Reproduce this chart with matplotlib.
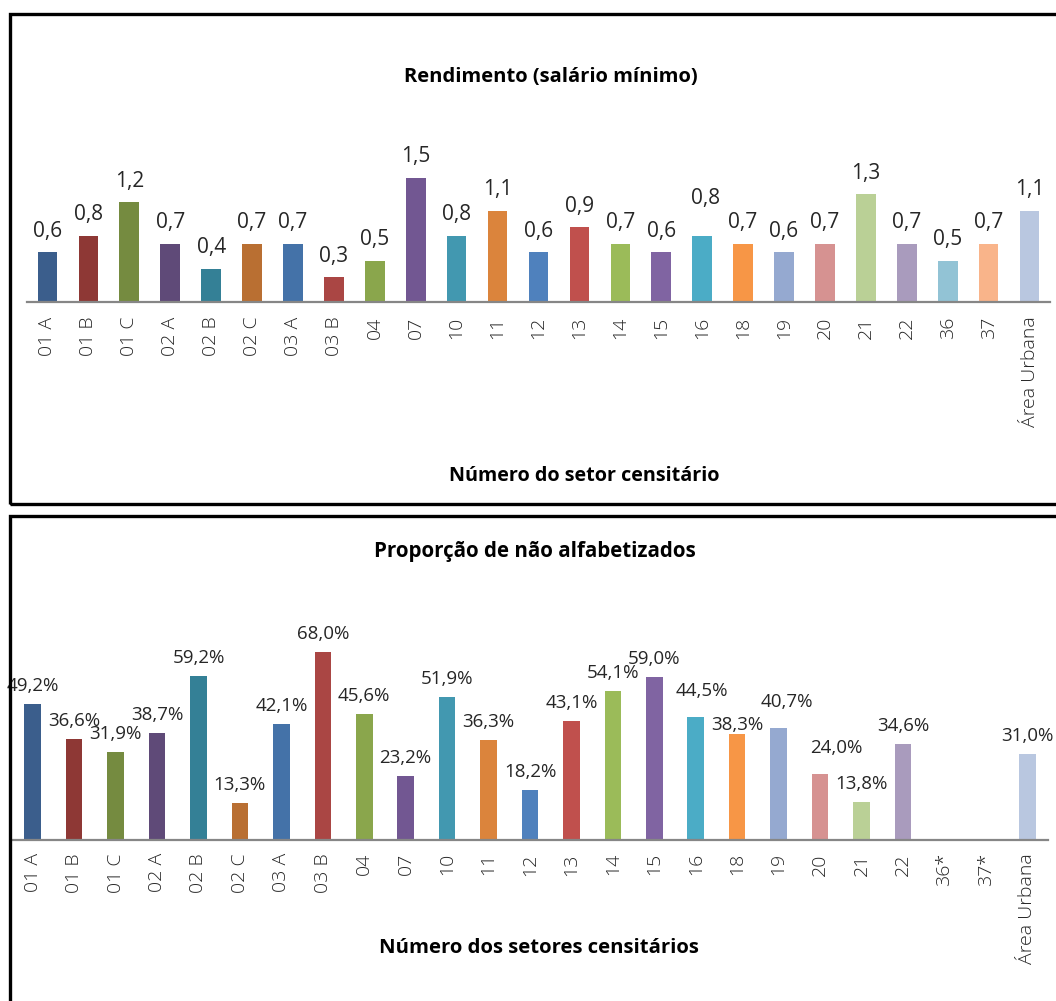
import numpy as np
import matplotlib
matplotlib.use("Agg")
import matplotlib.pyplot as plt
from matplotlib.patches import Rectangle

# Setores censitários (eixo x dos dois gráficos)
setores_renda = ["01 A", "01 B", "01 C", "02 A", "02 B", "02 C", "03 A", "03 B",
                 "04", "07", "10", "11", "12", "13", "14", "15", "16", "18", "19",
                 "20", "21", "22", "36", "37", "Área Urbana"]
setores_alfab = ["01 A", "01 B", "01 C", "02 A", "02 B", "02 C", "03 A", "03 B",
                 "04", "07", "10", "11", "12", "13", "14", "15", "16", "18", "19",
                 "20", "21", "22", "36*", "37*", "Área Urbana"]

# Rendimento médio em salários mínimos
rendimento = [0.6, 0.8, 1.2, 0.7, 0.4, 0.7, 0.7, 0.3, 0.5, 1.5, 0.8, 1.1, 0.6,
              0.9, 0.7, 0.6, 0.8, 0.7, 0.6, 0.7, 1.3, 0.7, 0.5, 0.7, 1.1]

# Proporção de não alfabetizados (%); 36 e 37 sem dado
nao_alfab = [49.2, 36.6, 31.9, 38.7, 59.2, 13.3, 42.1, 68.0, 45.6, 23.2, 51.9,
             36.3, 18.2, 43.1, 54.1, 59.0, 44.5, 38.3, 40.7, 24.0, 13.8, 34.6,
             np.nan, np.nan, 31.0]

cores = ["#3B5E8C", "#8E3835", "#758B40", "#5F4A78", "#348096", "#B96F32",
         "#4472A8", "#AA4644", "#8AA64C", "#725792", "#4298B0", "#DB843C",
         "#4F81BD", "#C0504D", "#9BBB59", "#8064A2", "#4BACC6", "#F79646",
         "#95A9D0", "#D69291", "#BAD096", "#A99BBD", "#92C3D5", "#F9B48A",
         "#B9C7E0"]

# Deslocamentos manuais de rótulos (dx, dy em pixels) para evitar sobreposição
ajuste_renda = {16: (3, 16)}
ajuste_alfab = {16: (6, 8), 17: (0, -9), 18: (8, 8), 19: (16, 8)}

W, H = 1056, 1001
PX = 0.72  # pontos por pixel a 100 dpi
fig = plt.figure(figsize=(W / 100, H / 100), dpi=100)
fig.patch.set_facecolor("white")

FONT = ["Open Sans", "DejaVu Sans"]
AXIS_GRAY = "#868686"


def px_axes(x0, x1, y_top, y_base):
    return fig.add_axes([x0 / W, 1 - y_base / H, (x1 - x0) / W, (y_base - y_top) / H])


def style_axes(ax, labels, pad):
    for s in ("top", "left", "right"):
        ax.spines[s].set_visible(False)
    ax.spines["bottom"].set_color(AXIS_GRAY)
    ax.spines["bottom"].set_linewidth(1.6)
    ax.set_yticks([])
    ax.set_xticks(np.arange(len(labels)))
    ax.set_xticklabels(labels, rotation=90, ha="center", va="top",
                       family=FONT, fontsize=14, fontweight="light", color="#262626")
    ax.tick_params(axis="x", length=0, pad=pad)
    ax.set_xlim(-0.5, len(labels) - 0.5)
    ax.set_facecolor("none")


def rotular(ax, xs, vals, fmt, base_px, ajustes, size):
    for i, (xi, v) in enumerate(zip(xs, vals)):
        if np.isnan(v):
            continue
        dx, dy = ajustes.get(i, (0, 0))
        ax.annotate(fmt(v), (xi, v), xytext=(dx * PX, (base_px + dy) * PX),
                    textcoords="offset points", ha="center", va="baseline",
                    family=FONT, fontsize=size, color="#262626")


# Molduras dos painéis
for (x, y, w, h) in [(9.5, 14, 1100, 490), (9.5, 516, 1100, 520)]:
    fig.patches.append(Rectangle((x / W, 1 - (y + h) / H), w / W, h / H,
                                 transform=fig.transFigure, fill=False,
                                 edgecolor="black", linewidth=2.4, clip_on=False))

# ---- Painel superior: rendimento ----
ax1 = px_axes(27, 1050, 136, 302)
x1 = np.arange(len(setores_renda))
ax1.bar(x1, rendimento, width=0.48, color=cores, zorder=2)
ax1.set_ylim(0, 2.0)
style_axes(ax1, setores_renda, pad=10.5)
rotular(ax1, x1, rendimento, lambda v: f"{v:.1f}".replace(".", ","), 15.5,
        ajuste_renda, 15)

fig.text(551 / W, 1 - 77 / H, "Rendimento (salário mínimo)", ha="center", va="center",
         family=FONT, fontsize=14.5, fontweight="bold", color="black")
fig.text(584 / W, 1 - 476 / H, "Número do setor censitário", ha="center", va="center",
         family=FONT, fontsize=14.2, fontweight="bold", color="black")

# ---- Painel inferior: não alfabetizados ----
ax2 = px_axes(12, 1048, 619, 840)
x2 = np.arange(len(setores_alfab))
ax2.bar(x2, nao_alfab, width=0.40, color=cores, zorder=2)
ax2.set_ylim(0, 80)
style_axes(ax2, setores_alfab, pad=9.5)
rotular(ax2, x2, nao_alfab, lambda v: f"{v:.1f}%".replace(".", ","), 13,
        ajuste_alfab, 13.5)

fig.text(535 / W, 1 - 551 / H, "Proporção de não alfabetizados", ha="center", va="center",
         family=FONT, fontsize=14.8, fontweight="bold", color="black")
fig.text(539 / W, 1 - 948 / H, "Número dos setores censitários", ha="center", va="center",
         family=FONT, fontsize=14.6, fontweight="bold", color="black")

fig.savefig("out.png", dpi=100, facecolor="white")
